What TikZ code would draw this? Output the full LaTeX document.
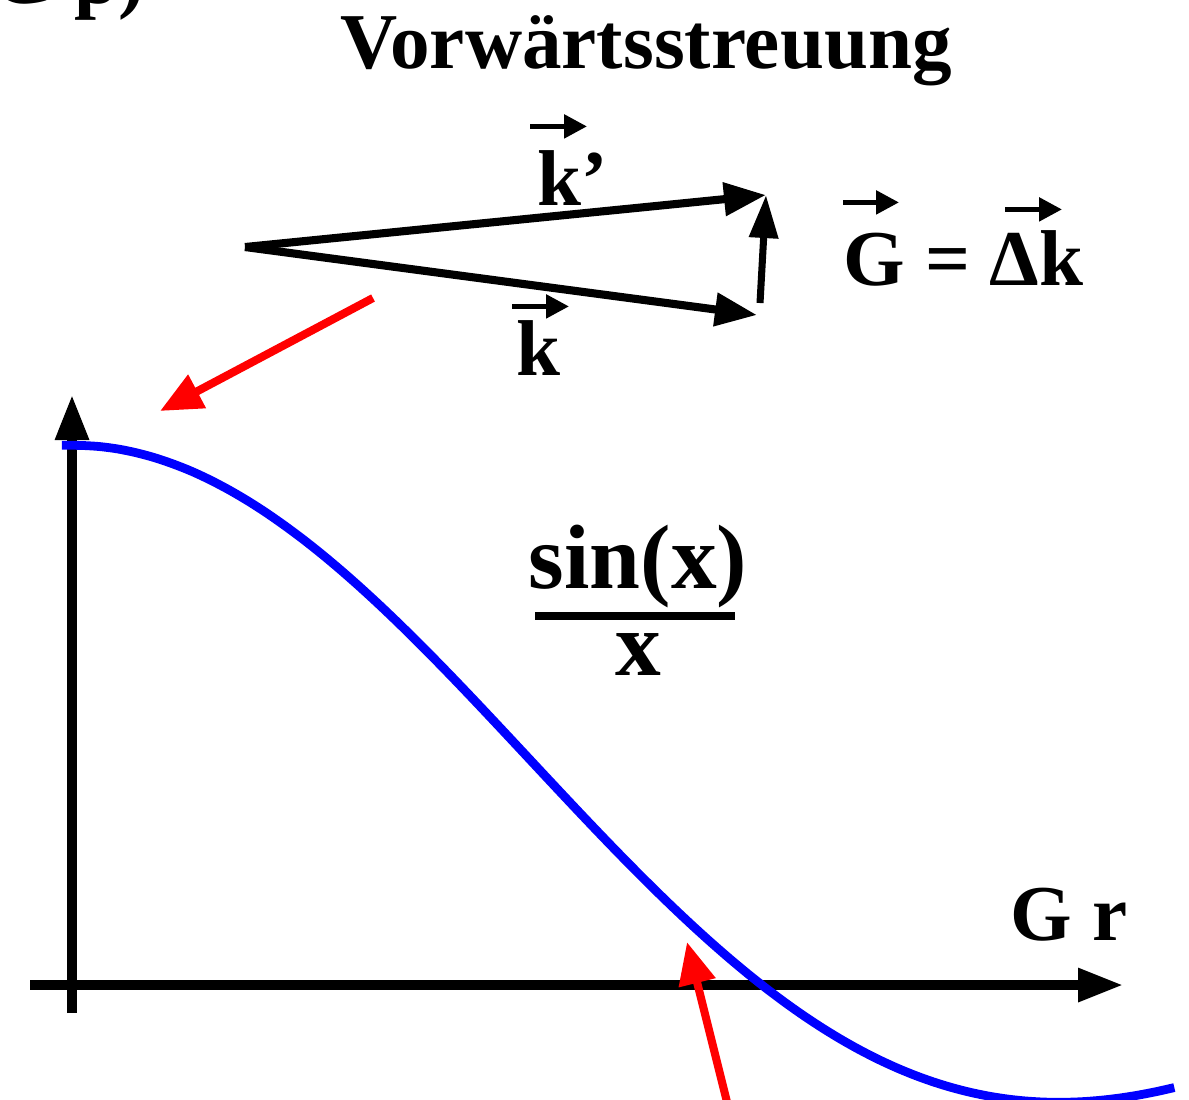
\documentclass[tikz,border=0pt]{standalone}
\usepackage{fontspec}
\setmainfont{Liberation Serif}
\usetikzlibrary{arrows.meta}

\begin{document}
\begin{tikzpicture}[x=0.01cm,y=-0.01cm,
    lbl/.style={font=\fontsize{22.5}{27}\selectfont\bfseries,inner sep=0pt},
    fraclbl/.style={font=\fontsize{26}{30}\selectfont\bfseries,inner sep=0pt},
    vecline/.style={line width=2.3pt,-{Triangle[length=0.42cm,width=0.32cm]}},
    overarrow/.style={line width=1.5pt,-{Triangle[length=0.23cm,width=0.23cm]}},
    axisline/.style={line width=2.6pt,-{Triangle[length=0.45cm,width=0.32cm]}},
    pointer/.style={red,line width=2.3pt,-{Triangle[length=0.42cm,width=0.36cm]}}]
  \useasboundingbox (0,0) rectangle (1189,1099);
  \node[lbl,anchor=base west] (cut) at (-8,3) {G p)};
  \node[lbl,anchor=base] (title) at (646,68) {Vorwärtsstreuung};
  % scattering triangle
  \coordinate (O) at (245,247);
  \coordinate (kptip) at (766,195);
  \coordinate (ktip) at (757,315);
  \coordinate (Gfoot) at (760,303);
  \draw[vecline] (O) -- (kptip);
  \draw[vecline] (O) -- (ktip);
  \draw[vecline,line width=2pt,-{Triangle[length=0.43cm,width=0.28cm]}] (Gfoot) -- (kptip);
  \node[lbl,anchor=base west] (kplbl) at (537,205) {k’};
  \draw[overarrow] (kplbl.north west) ++(-7,-23) -- ++(57,0);
  \node[lbl,anchor=base west] (klbl) at (516,375) {k};
  \draw[overarrow] (klbl.north west) ++(-4,-13) -- ++(57,0);
  \node[lbl,anchor=base west] (Geq) at (843,285) {G = Δk};
  \draw[overarrow] (Geq.north west) ++(0,-27) -- ++(56,0);
  \draw[overarrow] (Geq.north west) ++(162,-20) -- ++(57,0);
  % axes and curve
  \coordinate (ybot) at (72,1013);
  \coordinate (ytop) at (72,395);
  \coordinate (xleft) at (30,985);
  \coordinate (xright) at (1123,985);
  \draw[axisline] (ybot) -- (ytop);
  \draw[axisline] (xleft) -- (xright);
  \draw[blue,line width=2.5pt] plot[domain=-0.046:5.02,samples=61,smooth] ({72+219.6*\x},{985-540*sin(\x r)/\x});
  \node[lbl,anchor=base east] (Gr) at (1128,940) {G r};
  \node[fraclbl,anchor=base] (num) at (638,588) {sin(x)};
  \node[fraclbl,anchor=base] (den) at (638,675) {x};
  \draw[line width=2.3pt] (535,616) -- (735,616);
  % pointers
  \coordinate (p1s) at (373,298);
  \coordinate (p1e) at (160,411);
  \coordinate (p2s) at (729,1110);
  \coordinate (p2e) at (687,942);
  \draw[pointer] (p1s) -- (p1e);
  \draw[pointer] (p2s) -- (p2e);
\end{tikzpicture}
\end{document}
